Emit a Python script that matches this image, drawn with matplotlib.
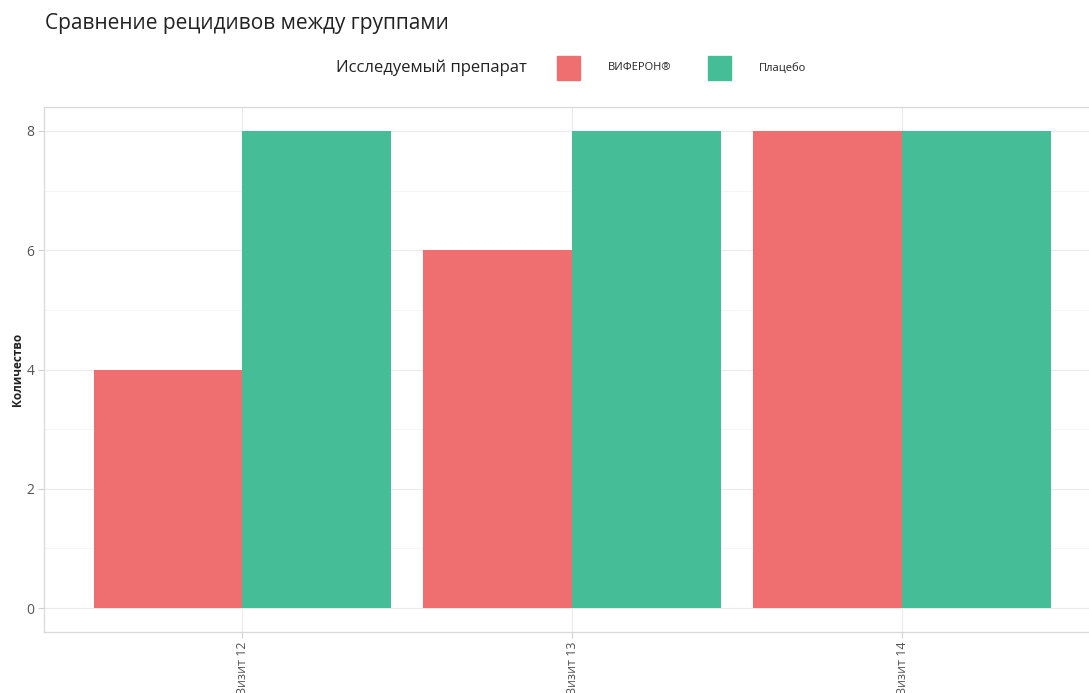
import numpy as np
import matplotlib
matplotlib.use("Agg")
import matplotlib.pyplot as plt
from matplotlib.patches import Rectangle

visits = ["Визит 12", "Визит 13", "Визит 14"]
groups = ["ВИФЕРОН®", "Плацебо"]
viferon = [4, 6, 8]
placebo = [8, 8, 8]
colors = ["#EF6E70", "#45BD96"]

plt.rcParams["font.family"] = ["Open Sans", "DejaVu Sans"]

W, H = 1089, 693
fig = plt.figure(figsize=(W / 100, H / 100), dpi=100)
# panel runs past the right edge, as in the reference
ax = fig.add_axes([44 / W, (H - 632) / H, (1100 - 44) / W, (632 - 107) / H])

x = np.arange(1, len(visits) + 1)
width = 0.45
for vals, off, c in zip([viferon, placebo], [-width / 2, width / 2], colors):
    ax.bar(x + off, vals, width=width, color=c, zorder=2)

ax.set_xlim(0.4, 3.6)
ax.set_ylim(-0.4, 8.4)
ax.set_yticks([0, 2, 4, 6, 8])
ax.set_yticks([1, 3, 5, 7], minor=True)
ax.set_xticks(x)
ax.set_xticklabels(visits, rotation=90, va="top")
ax.grid(which="major", color="#EBEBEB", lw=0.8, zorder=0)
ax.grid(which="minor", axis="y", color="#F5F5F5", lw=0.6, zorder=0)
for s in ax.spines.values():
    s.set_color("#D9D9D9")
    s.set_linewidth(0.9)
ax.tick_params(axis="both", which="major", length=4, color="#D0D0D0",
               labelcolor="#555555", labelsize=10, pad=3)
ax.tick_params(axis="x", labelsize=9)
ax.tick_params(which="minor", length=0)
ax.set_ylabel("Количество", fontsize=8.5, fontweight="bold", color="#222222")
ax.yaxis.set_label_coords(-20 / (1100 - 44), 0.5)

fig.text(45 / W, 1 - 23 / H, "Сравнение рецидивов между группами",
         fontsize=15, color="#222222", va="center", ha="left")

# legend
fig.text(527 / W, 1 - 68 / H, "Исследуемый препарат", fontsize=12,
         color="#222222", va="center", ha="right")
key_x = [557, 708]
for kx, name, c in zip(key_x, groups, colors):
    fig.patches.append(Rectangle((kx / W, 1 - 80 / H), 23 / W, 24 / H,
                                 transform=fig.transFigure, color=c))
    fig.text((kx + 51) / W, 1 - 68 / H, name, fontsize=8, color="#222222",
             va="center", ha="left")

fig.savefig("out.png", dpi=100)
